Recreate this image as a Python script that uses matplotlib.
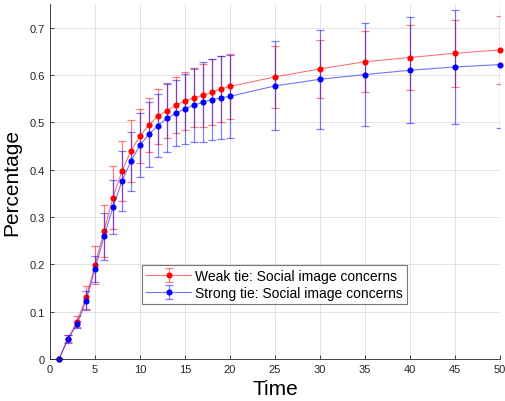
import matplotlib
matplotlib.use("Agg")
import matplotlib.pyplot as plt
import numpy as np

plt.rcParams['font.family'] = ['Liberation Sans', 'DejaVu Sans']

# time steps
time = [1, 2, 3, 4, 5, 6, 7, 8, 9, 10, 11, 12, 13, 14, 15, 16, 17, 18, 19, 20,
        25, 30, 35, 40, 45, 50]

# weak tie
weak_mean = [0, 0.043, 0.079, 0.130, 0.198, 0.271, 0.341, 0.397, 0.440, 0.471,
             0.495, 0.513, 0.525, 0.536, 0.545, 0.552, 0.557, 0.564, 0.571, 0.576,
             0.596, 0.613, 0.628, 0.637, 0.646, 0.653]
weak_err = [0, 0.008, 0.012, 0.025, 0.040, 0.055, 0.066, 0.063, 0.066, 0.057,
            0.057, 0.058, 0.058, 0.059, 0.061, 0.061, 0.066, 0.070, 0.070, 0.069,
            0.066, 0.062, 0.064, 0.068, 0.071, 0.072]

# strong tie
strong_mean = [0, 0.042, 0.073, 0.123, 0.190, 0.259, 0.321, 0.376, 0.418, 0.452,
               0.475, 0.493, 0.509, 0.519, 0.529, 0.536, 0.543, 0.548, 0.552, 0.555,
               0.577, 0.591, 0.601, 0.610, 0.617, 0.622]
strong_err = [0, 0.009, 0.008, 0.020, 0.027, 0.050, 0.057, 0.063, 0.062, 0.067,
              0.069, 0.067, 0.072, 0.070, 0.074, 0.078, 0.084, 0.086, 0.088, 0.088,
              0.094, 0.105, 0.108, 0.112, 0.120, 0.134]

labels = ["Weak tie: Social image concerns", "Strong tie: Social image concerns"]

fig = plt.figure(figsize=(5.06, 4.02), dpi=100)
ax = fig.add_axes([0.0988, 0.1045, 0.8893, 0.883])

dark = "#262626"

for mean, err, col, rgba, lab in [(weak_mean, weak_err, "red", (1, 0, 0, 0.55), labels[0]),
                                  (strong_mean, strong_err, "blue", (0, 0, 1, 0.55), labels[1])]:
    eb = ax.errorbar(time, mean, yerr=err, color=rgba, ecolor=(rgba[0], 0, rgba[2], 0.5),
                     lw=0.8, elinewidth=0.9, capsize=2.8, capthick=0.9,
                     marker="o", ms=3.4, mfc=col, mec=col, label=lab)
    eb[0].set_clip_on(False)

ax.set_xlim(0, 50)
ax.set_ylim(0, 0.75)
ax.set_xticks(np.arange(0, 51, 5))
ax.set_yticks(np.arange(0, 0.71, 0.1))
ax.set_yticklabels(["0", "0.1", "0.2", "0.3", "0.4", "0.5", "0.6", "0.7"])
ax.grid(True, color="#e3e3e3", lw=0.7)
ax.set_axisbelow(True)
for s in ["top", "right"]:
    ax.spines[s].set_visible(False)
for s in ["left", "bottom"]:
    ax.spines[s].set_color(dark)
    ax.spines[s].set_linewidth(0.6)
ax.tick_params(direction="in", length=3, width=0.6, colors=dark, labelsize=8)

ax.set_xlabel("Time", fontsize=15, color="black", labelpad=4)
ax.set_ylabel("Percentage", fontsize=15, color="black", labelpad=6)

leg = ax.legend(loc="lower left", bbox_to_anchor=(0.205, 0.155), fontsize=10,
                frameon=True, fancybox=False, edgecolor="#555555",
                borderpad=0.3, handlelength=3.2, handletextpad=0.3,
                labelspacing=0.2, borderaxespad=0)
leg.get_frame().set_linewidth(0.8)

fig.savefig("out.png", dpi=100)
